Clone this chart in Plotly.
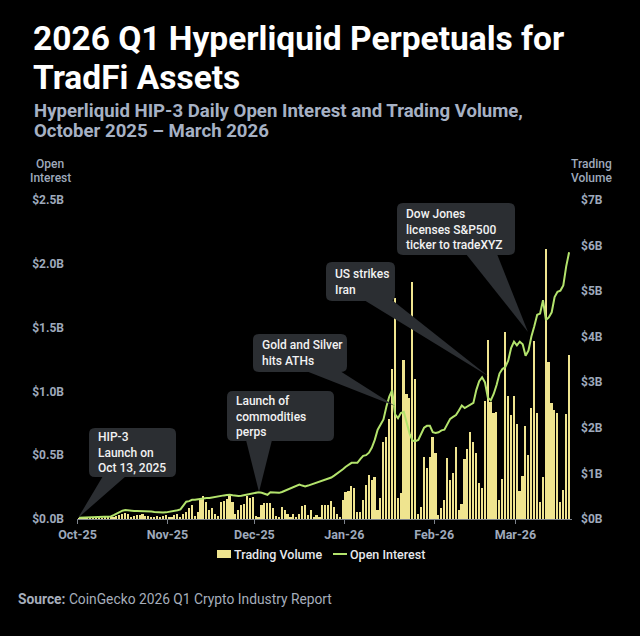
import pandas as pd
import plotly.graph_objects as go

# ---------------- data ----------------
dates = pd.date_range("2025-10-01 12:00", periods=170, freq="D")

volume_b = [
    0.02, 0.03, 0.02, 0.03, 0.02, 0.03, 0.04, 0.03, 0.02, 0.03, 0.04, 0.03,
    0.04, 0.06, 0.08, 0.10, 0.14, 0.12, 0.05, 0.07, 0.09, 0.08, 0.10, 0.07, 0.06, 0.05, 0.04, 0.06, 0.05, 0.07, 0.09,
    0.05, 0.04, 0.08, 0.10,
    0.05, 0.12, 0.15, 0.25, 0.30, 0.06, 0.15, 0.44, 0.50, 0.38, 0.20, 0.24, 0.10, 0.06, 0.38, 0.40, 0.43, 0.50, 0.38,
    0.10, 0.20, 0.30, 0.33, 0.50, 0.45, 0.48,
    0.07, 0.05, 0.30, 0.36, 0.36, 0.35, 0.24, 0.06, 0.05, 0.26, 0.20, 0.12, 0.05, 0.10, 0.05, 0.10, 0.28, 0.30, 0.08,
    0.20, 0.05, 0.08, 0.04, 0.30, 0.30, 0.30, 0.40, 0.26, 0.12, 0.05,
    0.42, 0.60, 0.62, 0.72, 0.68, 0.15, 0.15, 0.42, 0.74, 0.96, 0.85, 0.93, 0.20, 0.46, 1.69, 1.80, 2.20, 3.30, 4.84,
    0.46, 0.57, 3.48, 2.75, 2.65, 5.19, 3.08, 0.10, 0.27, 1.36, 1.12, 1.36, 1.80,
    1.45, 0.09, 0.24, 0.42, 1.33, 0.85, 1.00, 1.58, 0.20, 0.33, 1.31, 1.53, 1.91, 1.69, 1.45, 0.79, 0.68, 2.60, 3.92,
    2.57, 2.32, 2.35, 0.42, 0.87, 4.10, 2.69, 2.28, 2.69,
    2.09, 0.62, 0.94, 2.03, 1.40, 2.44, 3.90, 2.32, 0.37, 0.92, 5.93, 3.44, 2.54, 2.40, 2.33, 0.38, 0.63, 2.30, 3.60,
]

open_interest_b = [
    0.010, 0.011, 0.012, 0.012, 0.013, 0.013, 0.014, 0.014, 0.015, 0.015, 0.015,
    0.020, 0.030, 0.042, 0.055, 0.065, 0.070,
    0.066, 0.064, 0.063, 0.062, 0.062, 0.061, 0.060, 0.060, 0.058, 0.055, 0.052, 0.050, 0.050, 0.052, 0.055, 0.058,
    0.062, 0.068, 0.075,
    0.105, 0.136, 0.140, 0.150, 0.150, 0.155, 0.155, 0.160, 0.165, 0.165, 0.170, 0.175, 0.178, 0.180, 0.185, 0.188,
    0.190, 0.186, 0.182, 0.180, 0.183, 0.188, 0.194, 0.198, 0.202,
    0.206, 0.210, 0.205, 0.198, 0.190, 0.210, 0.208, 0.206, 0.205, 0.212, 0.222, 0.235, 0.245, 0.255, 0.262, 0.270,
    0.262, 0.255, 0.262, 0.270, 0.275, 0.280, 0.290, 0.300, 0.308, 0.315, 0.325, 0.340, 0.355, 0.370,
    0.390, 0.410, 0.425, 0.440, 0.440, 0.440, 0.470, 0.495, 0.500, 0.520, 0.560, 0.620, 0.700, 0.740, 0.780, 0.880,
    0.960, 1.010, 0.820, 0.790, 0.830, 0.840, 0.760, 0.670, 0.615, 0.610, 0.620, 0.665, 0.715, 0.730, 0.730, 0.680,
    0.675, 0.680, 0.695, 0.700, 0.740, 0.785, 0.800, 0.815, 0.850, 0.890, 0.870, 0.885, 0.900, 0.910, 1.010, 1.080,
    1.110, 1.070, 0.950, 0.930, 0.980, 1.050, 1.140, 1.175, 1.190, 1.240, 1.340, 1.390,
    1.360, 1.390, 1.370, 1.280, 1.320, 1.430, 1.510, 1.600, 1.610, 1.715, 1.560, 1.580, 1.620, 1.740, 1.780, 1.790,
    1.830, 1.980, 2.090,
]

oi_tickvals = [0, 0.5, 1.0, 1.5, 2.0, 2.5]
oi_ticktext = ["$0.0B", "$0.5B", "$1.0B", "$1.5B", "$2.0B", "$2.5B"]
vol_tickvals = [0, 1, 2, 3, 4, 5, 6, 7]
vol_ticktext = ["$0B", "$1B", "$2B", "$3B", "$4B", "$5B", "$6B", "$7B"]

series_names = ["Trading Volume", "Open Interest"]

callouts = [
    ("HIP-3<br>Launch on<br>Oct 13, 2025", (89, 428, 176, 477), ((103, 477), (126, 477), (78, 518))),
    ("Launch of<br>commodities<br>perps", (227, 391, 334, 441), ((246, 441), (272, 441), (259, 492))),
    ("Gold and Silver<br>hits ATHs", (253, 334, 347, 372), ((306, 372), (340, 372), (395, 406))),
    ("US strikes<br>Iran", (326, 262, 395, 301), ((364, 301), (392, 301), (488, 376))),
    ("Dow Jones<br>licenses S&P500<br>ticker to tradeXYZ", (397, 203, 515, 255), ((466, 255), (497, 255), (528, 332))),
]

# ---------------- layout helpers ----------------
W, H = 640, 636
L, R, T, B = 77, 572, 200, 519


def fx(px):
    return (px - L) / (R - L)


def fy(py):
    return (B - py) / (B - T)


AXIS_COL = "#9ea9bb"
FONT = "Roboto"
BAR_COL = "#efe48f"
LINE_COL = "#b3e36c"

fig = go.Figure()
fig.add_trace(go.Bar(
    x=dates, y=volume_b, name=series_names[0], yaxis="y",
    marker=dict(color=BAR_COL, line=dict(width=0)),
    width=0.58 * 86400000,
))
fig.add_trace(go.Scatter(
    x=dates, y=open_interest_b, name=series_names[1], yaxis="y2",
    mode="lines", line=dict(color=LINE_COL, width=2),
))

shapes = []
annotations = []


def rrect(x0, y0, x1, y1, r=6):
    rx = lambda v: f"{fx(v):.5f}"
    ry = lambda v: f"{fy(v):.5f}"
    return (f"M {rx(x0 + r)},{ry(y0)} L {rx(x1 - r)},{ry(y0)} Q {rx(x1)},{ry(y0)} {rx(x1)},{ry(y0 + r)} "
            f"L {rx(x1)},{ry(y1 - r)} Q {rx(x1)},{ry(y1)} {rx(x1 - r)},{ry(y1)} "
            f"L {rx(x0 + r)},{ry(y1)} Q {rx(x0)},{ry(y1)} {rx(x0)},{ry(y1 - r)} "
            f"L {rx(x0)},{ry(y0 + r)} Q {rx(x0)},{ry(y0)} {rx(x0 + r)},{ry(y0)} Z")


BOX_COL = "#2b2e32"
for text, (x0, y0, x1, y1), (b1, b2, tip) in callouts:
    shapes.append(dict(type="path", xref="paper", yref="paper", path=rrect(x0, y0, x1, y1),
                       fillcolor=BOX_COL, line=dict(width=0), layer="above"))
    tri = (f"M {fx(b1[0]):.5f},{fy(b1[1] - 1):.5f} L {fx(b2[0]):.5f},{fy(b2[1] - 1):.5f} "
           f"L {fx(tip[0]):.5f},{fy(tip[1]):.5f} Z")
    shapes.append(dict(type="path", xref="paper", yref="paper", path=tri,
                       fillcolor=BOX_COL, line=dict(width=0), layer="above"))
    annotations.append(dict(
        text=text, x=fx(x0 + 7), y=fy((y0 + y1) / 2), xanchor="left", yanchor="middle", align="left",
        font=dict(family=FONT, size=12, color="#f2f2f2", weight=500),
    ))

# custom legend
shapes.append(dict(type="rect", xref="paper", yref="paper", x0=fx(217), x1=fx(231), y0=fy(558), y1=fy(550),
                   fillcolor=BAR_COL, line=dict(width=0)))
shapes.append(dict(type="line", xref="paper", yref="paper", x0=fx(333), x1=fx(347), y0=fy(554), y1=fy(554),
                   line=dict(color=LINE_COL, width=2)))
annotations += [
    dict(text=series_names[0], x=fx(232), y=fy(554), xanchor="left", yanchor="middle",
         font=dict(family=FONT, size=12.5, color="#e6e8ec", weight=500)),
    dict(text=series_names[1], x=fx(348), y=fy(554), xanchor="left", yanchor="middle",
         font=dict(family=FONT, size=12.5, color="#e6e8ec", weight=500)),
]

# titles
annotations += [
    dict(text="2026 Q1 Hyperliquid Perpetuals for", x=fx(31), y=fy(39), xanchor="left", yanchor="middle",
         font=dict(family=FONT, size=33.5, color="#ffffff", weight=700)),
    dict(text="TradFi Assets", x=fx(31), y=fy(77), xanchor="left", yanchor="middle",
         font=dict(family=FONT, size=33.5, color="#ffffff", weight=700)),
    dict(text="Hyperliquid HIP-3 Daily Open Interest and Trading Volume,", x=fx(32), y=fy(111),
         xanchor="left", yanchor="middle", font=dict(family=FONT, size=18.6, color="#a6b1c4", weight=700)),
    dict(text="October 2025 – March 2026", x=fx(32), y=fy(131),
         xanchor="left", yanchor="middle", font=dict(family=FONT, size=18.6, color="#a6b1c4", weight=700)),
    dict(text="Open", x=fx(50), y=fy(164), xanchor="center", yanchor="middle",
         font=dict(family=FONT, size=12, color=AXIS_COL, weight=500)),
    dict(text="Interest", x=fx(50), y=fy(178), xanchor="center", yanchor="middle",
         font=dict(family=FONT, size=12, color=AXIS_COL, weight=500)),
    dict(text="Trading", x=fx(591), y=fy(164), xanchor="center", yanchor="middle",
         font=dict(family=FONT, size=12, color=AXIS_COL, weight=500)),
    dict(text="Volume", x=fx(591), y=fy(178), xanchor="center", yanchor="middle",
         font=dict(family=FONT, size=12, color=AXIS_COL, weight=500)),
    dict(text="<b>Source:</b> CoinGecko 2026 Q1 Crypto Industry Report", x=fx(16), y=fy(599),
         xanchor="left", yanchor="middle", font=dict(family=FONT, size=13.8, color="#a6aebb")),
]
for a in annotations:
    a.setdefault("xref", "paper")
    a.setdefault("yref", "paper")
    a.setdefault("showarrow", False)

fig.update_layout(
    width=W, height=H,
    margin=dict(l=L, r=W - R, t=T, b=H - B, pad=0, autoexpand=False),
    paper_bgcolor="#000000", plot_bgcolor="#000000",
    font=dict(family=FONT, color=AXIS_COL),
    bargap=0,
    showlegend=False,
    xaxis=dict(
        type="date", range=["2025-09-30 20:00", "2026-03-20 12:00"],
        tick0="2025-10-01", dtick="M1", tickformat="%b-%y",
        showgrid=False, zeroline=False, showline=True, linecolor="#7d838c", linewidth=1,
        ticks="outside", ticklen=4, tickcolor="#7d838c", tickwidth=1,
        tickfont=dict(family=FONT, size=12.5, color=AXIS_COL, weight=700),
    ),
    yaxis=dict(
        side="right", range=[0, 7], tickvals=vol_tickvals, ticktext=vol_ticktext,
        showgrid=False, zeroline=False, showline=False, ticks="", ticklabelstandoff=8,
        tickfont=dict(family=FONT, size=12, color=AXIS_COL, weight=700),
    ),
    yaxis2=dict(
        side="left", overlaying="y", range=[0, 2.5], tickvals=oi_tickvals, ticktext=oi_ticktext,
        showgrid=False, zeroline=False, showline=False, ticks="", ticklabelstandoff=12,
        tickfont=dict(family=FONT, size=12, color=AXIS_COL, weight=700),
    ),
    shapes=shapes,
    annotations=annotations,
)

fig.write_html("out.html")
